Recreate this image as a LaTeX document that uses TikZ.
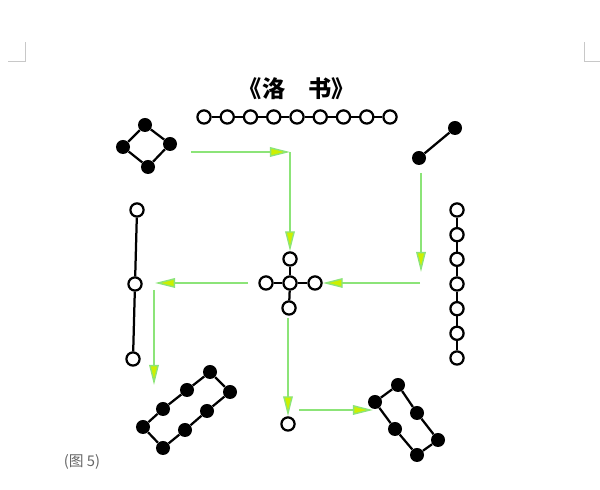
\documentclass[tikz,border=0pt]{standalone}
\usepackage{fontspec}
\newfontfamily\cjk{Noto Sans CJK SC}
\usetikzlibrary{arrows.meta}
\definecolor{lightgreen}{RGB}{140,228,120}
\definecolor{limegreen}{RGB}{205,240,0}
\definecolor{markgray}{RGB}{200,200,200}
\tikzset{
  wdot/.style={circle,draw=black,fill=white,line width=1.6pt,minimum size=0.33cm,inner sep=0pt},
  bdot/.style={circle,fill=black,minimum size=0.35cm,inner sep=0pt},
  link/.style={black,line width=1.6pt},
  flow/.style={\LINECOLOR,line width=1pt,-{Triangle[length=0.5cm,width=0.24cm,fill=\TIPCOLOR]}},
}
\begin{document}
\begin{tikzpicture}[x=0.025cm,y=-0.025cm]

\def\LINECOLOR{lightgreen}
\def\TIPCOLOR{limegreen}
\def\MARKCOLOR{markgray}
	\useasboundingbox (0,0) rectangle (600,490);
	% page corner marks
	\draw[\MARKCOLOR,thin] (8,61) -- (25,61) -- (25,42);
	\draw[\MARKCOLOR,thin] (600,61) -- (584,61) -- (584,42);

	\node (title) at (297,89) {\cjk\bfseries\fontsize{16.5}{16.5}\selectfont 《洛\quad 书》};
	\node[black!60] (caption) at (82,462) {\cjk\fontsize{10.5}{10.5}\selectfont (图 5)};

	% nine (top)
	\node[wdot] (t1) at (204,117) {};
	\node[wdot] (t2) at (227.25,117) {};
	\node[wdot] (t3) at (250.5,117) {};
	\node[wdot] (t4) at (273.75,117) {};
	\node[wdot] (t5) at (297,117) {};
	\node[wdot] (t6) at (320.25,117) {};
	\node[wdot] (t7) at (343.5,117) {};
	\node[wdot] (t8) at (366.75,117) {};
	\node[wdot] (t9) at (390,117) {};
	\draw[link] (t1) -- (t2) -- (t3) -- (t4) -- (t5) -- (t6) -- (t7) -- (t8) -- (t9);

	% four (top left)
	\node[bdot] (f1) at (145,125) {};
	\node[bdot] (f2) at (170,144) {};
	\node[bdot] (f3) at (148,167) {};
	\node[bdot] (f4) at (123,147) {};
	\draw[link] (f1) -- (f2) -- (f3) -- (f4) -- (f1);

	% two (top right)
	\node[bdot] (w1) at (455,128) {};
	\node[bdot] (w2) at (419,158) {};
	\draw[link] (w1) -- (w2);

	% three (left)
	\node[wdot] (l1) at (137,210) {};
	\node[wdot] (l2) at (135,284) {};
	\node[wdot] (l3) at (133,359) {};
	\draw[link] (l1) -- (l2) -- (l3);

	% seven (right)
	\node[wdot] (r1) at (457,210) {};
	\node[wdot] (r2) at (457,234.7) {};
	\node[wdot] (r3) at (457,259.3) {};
	\node[wdot] (r4) at (457,284) {};
	\node[wdot] (r5) at (457,308.7) {};
	\node[wdot] (r6) at (457,333.3) {};
	\node[wdot] (r7) at (457,358) {};
	\draw[link] (r1) -- (r2) -- (r3) -- (r4) -- (r5) -- (r6) -- (r7);

	% five (centre)
	\node[wdot] (cmid) at (290,283) {};
	\node[wdot] (ctop) at (290,259) {};
	\node[wdot] (cright) at (315,283) {};
	\node[wdot] (cbot) at (289,308) {};
	\node[wdot] (cleft) at (266,283) {};
	\draw[link] (cmid) -- (ctop);
	\draw[link] (cmid) -- (cright);
	\draw[link] (cmid) -- (cbot);
	\draw[link] (cmid) -- (cleft);

	% one (bottom)
	\node[wdot] (bone) at (288,424) {};

	% eight (bottom left)
	\node[bdot] (e1) at (210,372) {};
	\node[bdot] (e2) at (187,390) {};
	\node[bdot] (e3) at (163,409) {};
	\node[bdot] (e4) at (143,427) {};
	\node[bdot] (e5) at (163,448) {};
	\node[bdot] (e6) at (185,430) {};
	\node[bdot] (e7) at (207,411) {};
	\node[bdot] (e8) at (230,392) {};
	\draw[link] (e1) -- (e2) -- (e3) -- (e4) -- (e5) -- (e6) -- (e7) -- (e8) -- (e1);

	% six (bottom right)
	\node[bdot] (s1) at (398,385) {};
	\node[bdot] (s2) at (417,413) {};
	\node[bdot] (s3) at (438,440) {};
	\node[bdot] (s4) at (417,455) {};
	\node[bdot] (s5) at (395,429) {};
	\node[bdot] (s6) at (375,402) {};
	\draw[link] (s1) -- (s2) -- (s3) -- (s4) -- (s5) -- (s6) -- (s1);

	% green path
	\coordinate (p1) at (191,152);
	\coordinate (p2) at (290,152);
	\coordinate (p3) at (421,173);
	\coordinate (p4) at (421,272);
	\coordinate (p5) at (420,283);
	\coordinate (p6) at (248,283);
	\coordinate (p7) at (155,283);
	\coordinate (p8) at (154,290);
	\coordinate (p9) at (154,385);
	\coordinate (p10) at (288,318);
	\coordinate (p11) at (299,410);
	\coordinate (p12) at (373,410);
	\draw[flow] (p1) -- (p2);
	\draw[flow] (p2) -- (ctop);
	\draw[flow] (p3) -- (p4);
	\draw[flow] (p5) -- (cright);
	\draw[flow] (p6) -- (p7);
	\draw[flow] (p8) -- (p9);
	\draw[flow] (p10) -- (bone);
	\draw[flow] (p11) -- (p12);

          \end{tikzpicture}
\end{document}
